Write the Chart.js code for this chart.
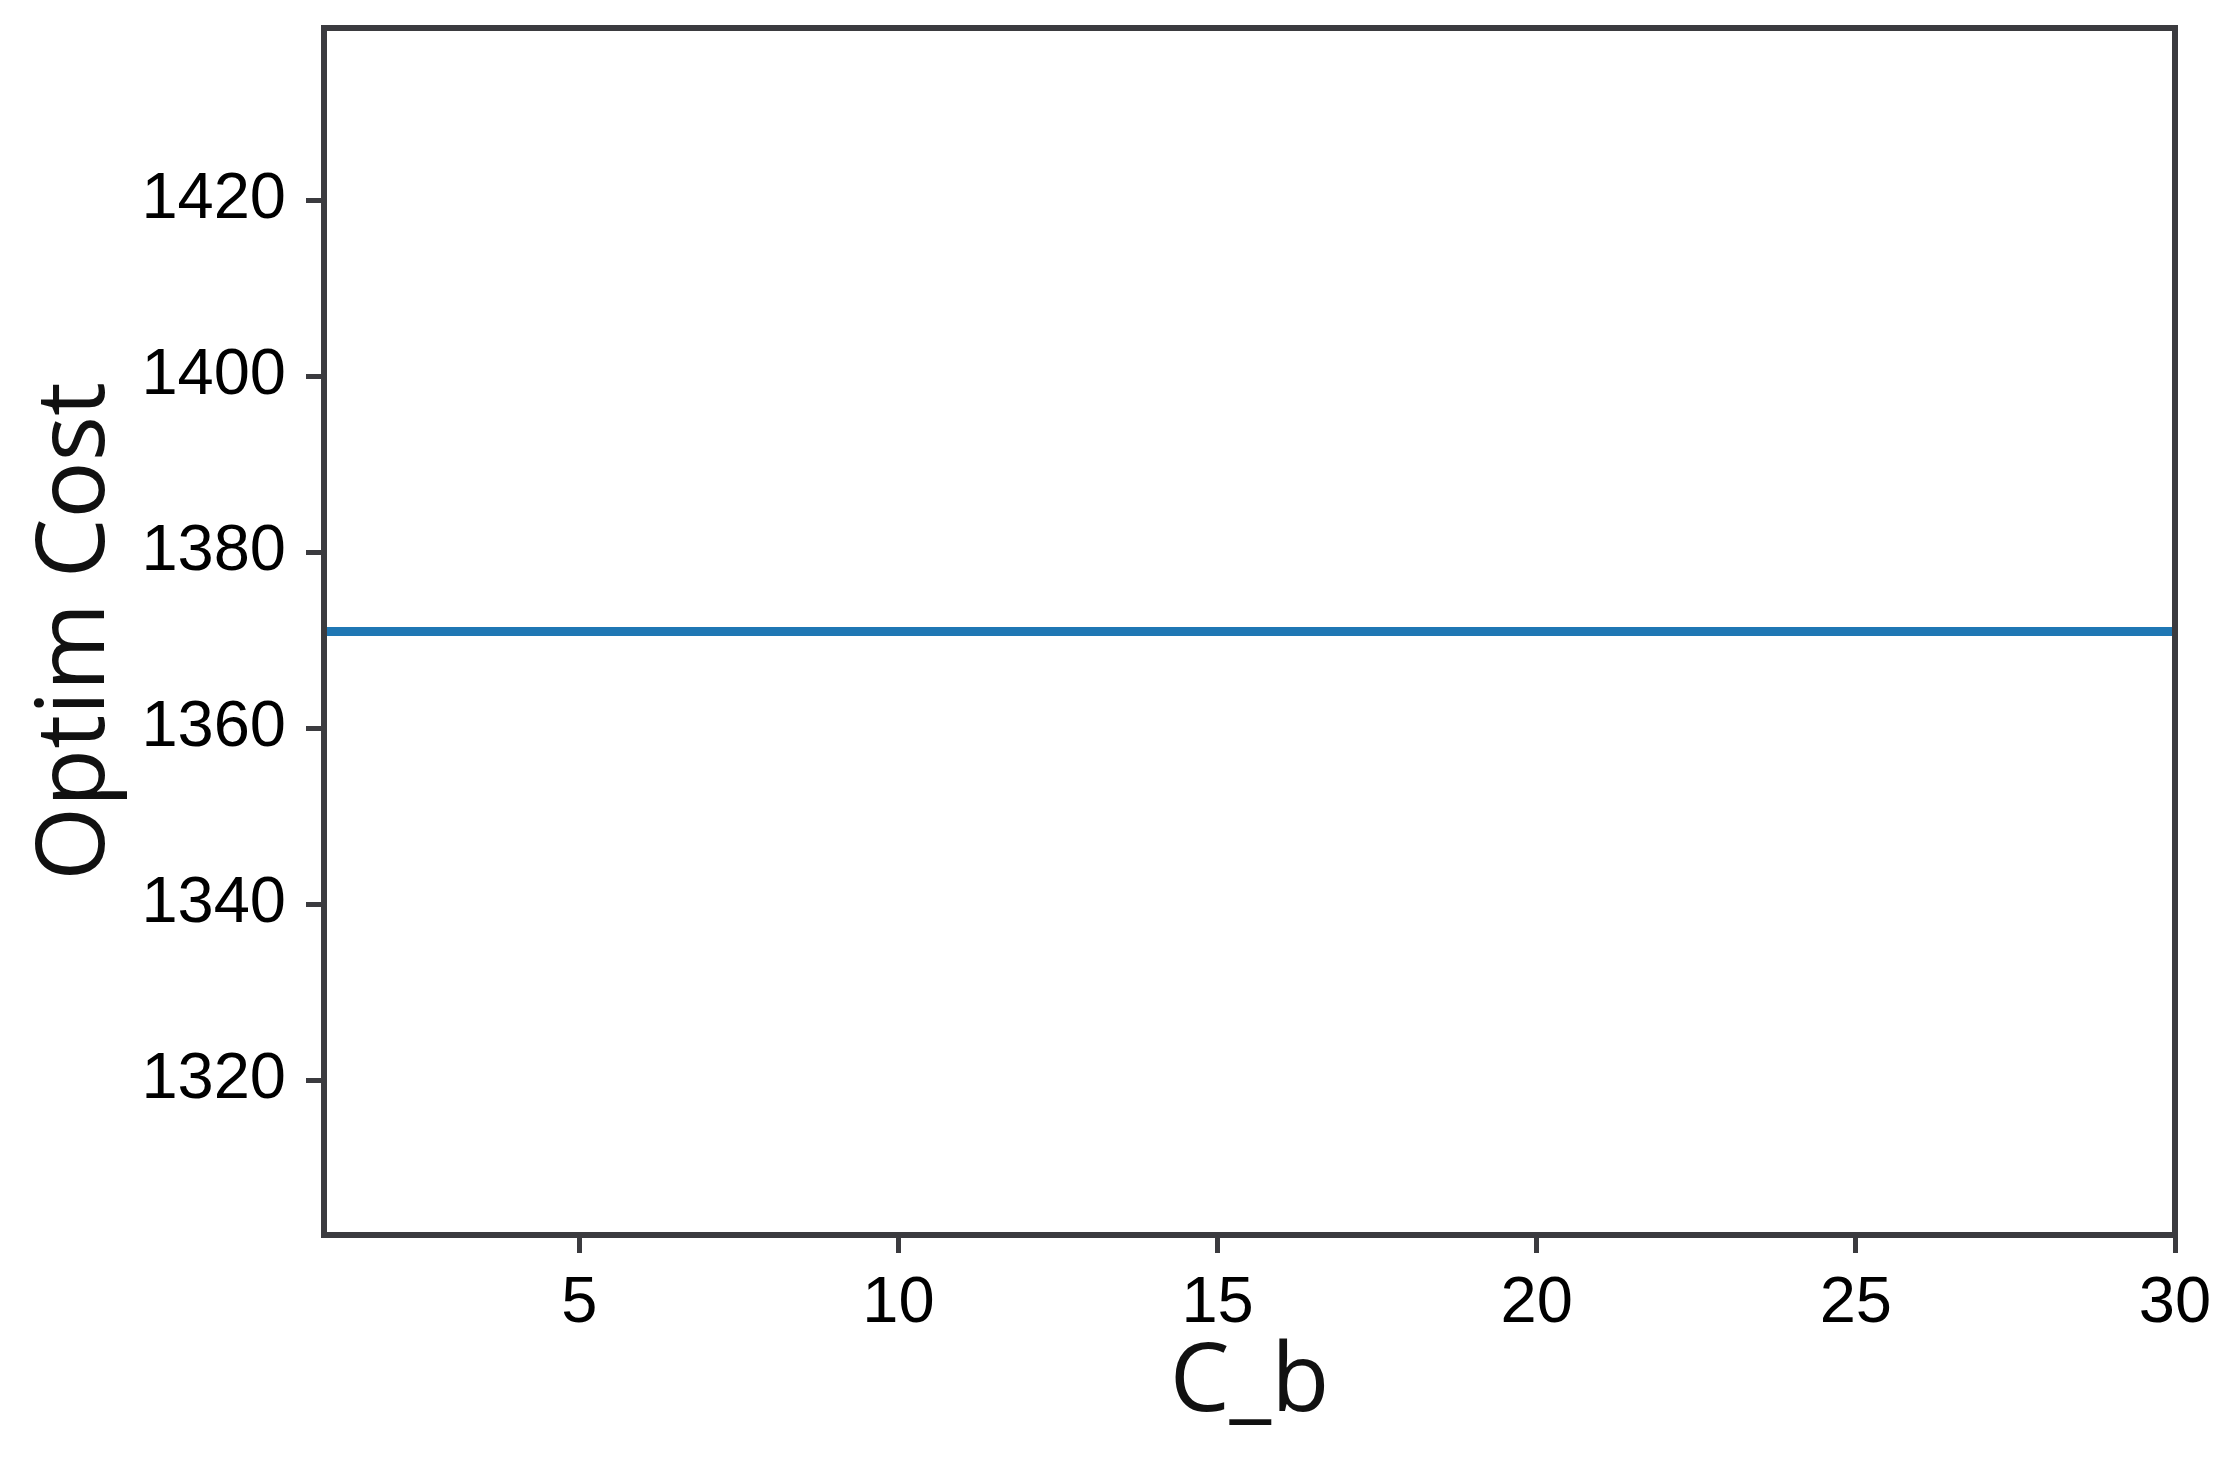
<!DOCTYPE html>
<html>
<head>
<meta charset="utf-8">
<title>Optim Cost vs C_b</title>
<script src="https://cdn.jsdelivr.net/npm/chart.js@4.4.1/dist/chart.umd.min.js"></script>
<style>
  html, body { margin: 0; padding: 0; background: #fff; }
  #wrap { width: 2219px; height: 1471px; }
</style>
</head>
<body>
<div id="wrap"><canvas id="costChart" width="2219" height="1471"></canvas></div>
<script>
// C_b sweep and the optimised cost (flat line)
const cbValues = [1, 2, 3, 4, 5, 6, 7, 8, 9, 10, 11, 12, 13, 14, 15,
                  16, 17, 18, 19, 20, 21, 22, 23, 24, 25, 26, 27, 28, 29, 30];
const optimCost = [1371, 1371, 1371, 1371, 1371, 1371, 1371, 1371, 1371, 1371,
                   1371, 1371, 1371, 1371, 1371, 1371, 1371, 1371, 1371, 1371,
                   1371, 1371, 1371, 1371, 1371, 1371, 1371, 1371, 1371, 1371];
const xTicks = [5, 10, 15, 20, 25, 30];
const yTicks = [1320, 1340, 1360, 1380, 1400, 1420];

const SPINE = '#3b3b3f';
const TICK_FONT = { family: '"Liberation Sans", Arial, sans-serif', size: 65 };
const TITLE_FONT = { family: '"Open Sans", "Noto Sans", sans-serif', size: 95 };

// matplotlib style box round the plot area
const framePlugin = {
    id: 'frame',
    afterDatasetsDraw(chart) {
        const a = chart.chartArea;
        const ctx = chart.ctx;
        ctx.save();
        ctx.strokeStyle = SPINE;
        ctx.lineWidth = 6;
        ctx.strokeRect(a.left, a.top, a.right - a.left, a.bottom - a.top);
        ctx.restore();
    }
};

const points = cbValues.map(function(x, i) { return { x: x, y: optimCost[i] }; });

new Chart(document.getElementById('costChart').getContext('2d'), {
    type: 'line',
    data: {
        datasets: [{
            data: points,
            borderColor: '#1f77b4',
            borderWidth: 9,
            pointRadius: 0,
            fill: false,
            tension: 0
        }]
    },
    options: {
        responsive: false,
        animation: false,
        layout: { padding: { top: 28, right: 44, left: 0, bottom: 0 } },
        plugins: { legend: { display: false }, tooltip: { enabled: false } },
        scales: {
            x: {
                type: 'linear',
                min: 1,
                max: 30,
                afterBuildTicks: function(s) { s.ticks = xTicks.map(function(v) { return { value: v }; }); },
                afterFit: function(s) { s.height = 236; s.paddingLeft = 0; s.paddingRight = 0; },
                grid: { display: true, drawOnChartArea: false, tickLength: 18, tickWidth: 5, tickColor: SPINE },
                border: { display: false },
                ticks: { color: '#000', font: TICK_FONT, padding: 12, maxRotation: 0,
                         callback: function(v) { return String(v); } },
                title: { display: true, text: 'C_b', color: '#111', font: TITLE_FONT, padding: { top: 0, bottom: 30 } }
            },
            y: {
                min: 1302.45,
                max: 1439.55,
                afterBuildTicks: function(s) { s.ticks = yTicks.map(function(v) { return { value: v }; }); },
                afterFit: function(s) { s.width = 324; s.paddingTop = 0; s.paddingBottom = 0; },
                grid: { display: true, drawOnChartArea: false, tickLength: 18, tickWidth: 5, tickColor: SPINE },
                border: { display: false },
                ticks: { color: '#000', font: TICK_FONT, padding: 20,
                         callback: function(v) { return String(v); } },
                title: { display: true, text: 'Optim Cost', color: '#111', font: TITLE_FONT, padding: { top: 20, bottom: 0 } }
            }
        }
    },
    plugins: [framePlugin]
});
</script>
</body>
</html>
